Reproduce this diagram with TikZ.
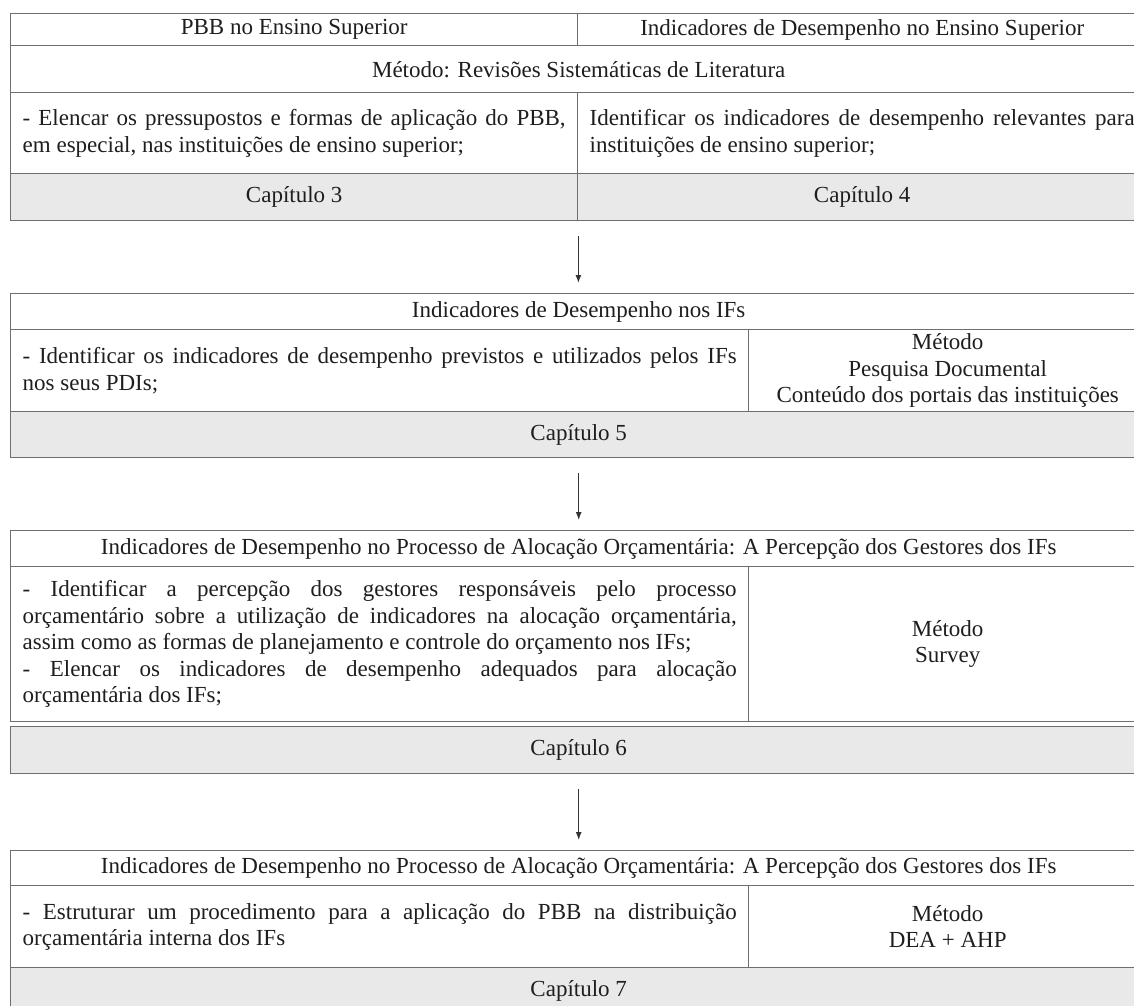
\documentclass[tikz,border=0pt]{standalone}
\usepackage{fontspec}
\setmainfont{Liberation Serif}
\usetikzlibrary{arrows.meta}
\definecolor{rulegray}{HTML}{6E6E6E}
\definecolor{capgray}{HTML}{E9E9E9}
\definecolor{inkgray}{HTML}{1E1E1E}
\begin{document}
\begin{tikzpicture}[x=1pt,y=-1pt,
  font=\fontsize{23pt}{26.5pt}\selectfont, text=inkgray,
  cell/.style={draw=rulegray, line width=1.4pt, inner sep=0pt, anchor=north west, align=center},
  textcell/.style={cell, inner xsep=12pt, align=justify},
  capcell/.style={cell, fill=capgray},
  arr/.style={-{Latex[length=8pt,width=6pt]}, draw=black!80, line width=1.2pt, shorten <=15pt, shorten >=10pt}]
\useasboundingbox (0,0) rectangle (1134,1005);
% block 1: literature reviews
\node[cell, minimum width=567pt, minimum height=32pt] (pbb) at (10,13) {PBB no Ensino Superior};
\node[cell, minimum width=569pt, minimum height=32pt] (ind) at (577,13) {Indicadores de Desempenho no Ensino Superior};
\node[cell, minimum width=1136pt, minimum height=47pt] (met1) at (10,45) {Método: Revisões Sistemáticas de Literatura};
\node[textcell, text width=543pt, minimum height=81pt] (obj3) at (10,92) {- Elencar os pressupostos e formas de aplicação do PBB,\linebreak em especial, nas instituições de ensino superior;};
\node[textcell, text width=545pt, minimum height=81pt] (obj4) at (577,92) {Identificar os indicadores de desempenho relevantes para\linebreak instituições de ensino superior;};
\node[capcell, minimum width=567pt, minimum height=47pt] (cap3) at (10,173) {Capítulo 3};
\node[capcell, minimum width=569pt, minimum height=47pt] (cap4) at (577,173) {Capítulo 4};
% block 2: IFs
\node[cell, minimum width=1136pt, minimum height=36pt] (hdr5) at (10,293) {Indicadores de Desempenho nos IFs};
\node[textcell, text width=714pt, minimum height=82pt] (obj5) at (10,329) {- Identificar os indicadores de desempenho previstos e utilizados pelos IFs\linebreak nos seus PDIs;};
\node[cell, minimum width=398pt, minimum height=82pt] (met5) at (748,329) {Método\\Pesquisa Documental\\Conteúdo dos portais das instituições};
\node[capcell, minimum width=1136pt, minimum height=46pt] (cap5) at (10,411) {Capítulo 5};
% block 3: survey
\node[cell, minimum width=1136pt, minimum height=36pt] (hdr6) at (10,530) {Indicadores de Desempenho no Processo de Alocação Orçamentária: A Percepção dos Gestores dos IFs};
\node[textcell, text width=714pt, minimum height=155pt] (obj6) at (10,566) {- Identificar a percepção dos gestores responsáveis pelo processo\linebreak orçamentário sobre a utilização de indicadores na alocação orçamentária,\linebreak assim como as formas de planejamento e controle do orçamento nos IFs;\\- Elencar os indicadores de desempenho adequados para alocação\linebreak orçamentária dos IFs;};
\node[cell, minimum width=398pt, minimum height=155pt] (met6) at (748,566) {Método\\Survey};
\node[capcell, minimum width=1136pt, minimum height=47pt] (cap6) at (10,726) {Capítulo 6};
% block 4: DEA + AHP
\node[cell, minimum width=1136pt, minimum height=35pt] (hdr7) at (10,850) {Indicadores de Desempenho no Processo de Alocação Orçamentária: A Percepção dos Gestores dos IFs};
\node[textcell, text width=714pt, minimum height=82pt] (obj7) at (10,885) {- Estruturar um procedimento para a aplicação do PBB na distribuição\linebreak orçamentária interna dos IFs};
\node[cell, minimum width=398pt, minimum height=82pt] (met7) at (748,885) {Método\\DEA + AHP};
\node[capcell, minimum width=1136pt, minimum height=47pt] (cap7) at (10,967) {Capítulo 7};
% arrows between blocks
\draw[arr] (cap3.south east) -- (cap3.south east |- hdr5.north);
\draw[arr] (cap5.south) -- (hdr6.north);
\draw[arr] (cap6.south) -- (hdr7.north);
\end{tikzpicture}
\end{document}
